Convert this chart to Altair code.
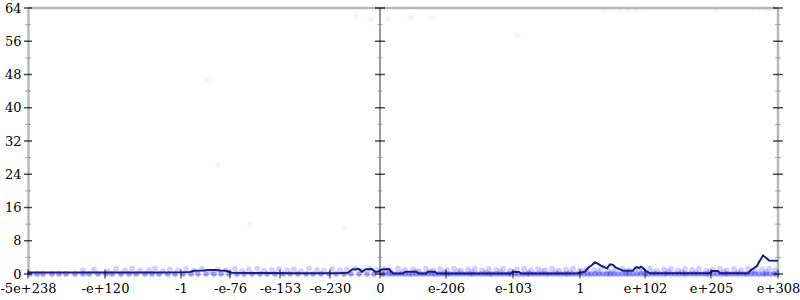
import altair as alt
import pandas as pd

# x is an ordinal "float position" index running 0..750 across the plot
tick_pos = [0, 77, 153, 202, 252, 302, 352, 418, 485, 552, 617, 683, 750]
tick_labels = ["-5e+238", "-e+120", "-1", "-e-76", "-e-153", "-e-230", "0",
               "e-206", "e-103", "1", "e+102", "e+205", "e+308"]
y_major = [0, 8, 16, 24, 32, 40, 48, 56, 64]
y_minor = [4, 12, 20, 28, 36, 44, 52, 60]

# average error line (bits)
line_x = [0, 72, 122, 157, 162, 166, 176, 180, 188, 192, 198, 204, 232, 272, 312,
          320, 324, 331, 334, 338, 344, 347, 350, 354, 361, 365, 375, 378, 388, 391,
          398, 400, 407, 409, 442, 483, 485, 491, 493, 532, 550, 557, 560, 564, 567,
          570, 573, 576, 579, 582, 585, 588, 592, 595, 605, 607, 609, 611, 613, 615,
          617, 619, 622, 682, 684, 690, 692, 720, 723, 726, 729, 731, 733, 735, 737,
          739, 741, 750]
line_y = [0.36, 0.36, 0.38, 0.40, 0.50, 0.79, 0.85, 0.96, 0.96, 0.85, 0.79, 0.30, 0.22, 0.20, 0.22,
          0.30, 1.10, 1.20, 0.55, 1.15, 1.20, 0.55, 0.55, 1.10, 1.20, 0.10, 0.15, 0.55, 0.55, 0.15,
          0.15, 0.55, 0.55, 0.12, 0.12, 0.12, 0.50, 0.50, 0.12, 0.12, 0.20, 0.55, 1.44, 2.17, 2.82,
          2.41, 2.00, 1.68, 1.37, 2.33, 2.17, 1.52, 1.13, 0.79, 0.79, 1.44, 1.68, 1.44, 1.76, 1.44,
          0.96, 0.55, 0.17, 0.17, 0.72, 0.72, 0.17, 0.17, 0.96, 1.44, 1.92, 2.89, 3.61, 4.45, 4.09,
          3.73, 3.25, 3.20]

# sample points at zero error
zero_x = [2, 9, 15, 24, 31, 38, 47, 55, 61, 70, 78, 84, 93, 101, 108, 117, 124, 131, 140, 147,
          155, 163, 170, 178, 186, 193, 201, 209, 216, 224, 232, 239, 247, 255, 262, 270, 278,
          285, 293, 301, 308, 316, 323, 331, 339, 346, 354, 361, 369, 377, 384, 392, 400, 407,
          415, 422, 430, 438, 445, 453, 461, 468, 476, 483, 491, 499, 506, 514, 521, 529, 537,
          544, 552, 560, 567, 575, 582, 590, 598, 605, 613, 620, 628, 636, 643, 651, 658, 666,
          674, 681, 689, 697, 704, 712, 719, 727, 735, 742, 749,
          356, 365, 373, 381, 388, 396, 404, 411, 419, 426, 434, 442, 449, 457, 464, 472, 480,
          487, 495, 502, 510, 518, 525, 533, 540, 548, 556, 563, 571, 579, 586, 594, 601, 609,
          617, 624, 632, 639, 647, 655, 662, 670, 678, 685, 693, 700, 708, 716, 723, 731, 738, 746]

# sample points with small error (low band)
band_x = [55, 66, 80, 88, 97, 104, 112, 121, 127, 135, 142, 150, 158, 166, 174, 183, 190, 198,
          207, 214, 221, 229, 236, 244, 251, 259, 266, 273, 281, 289, 296, 304, 312, 319, 327,
          334, 342, 349, 356, 362, 370, 377, 385, 391, 398, 405, 412, 419, 426, 433, 440, 447,
          454, 461, 468, 475, 482, 489, 496, 503, 510, 517, 524, 531, 538, 545, 552, 559, 566,
          573, 580, 587, 594, 601, 608, 615, 622, 629, 636, 643, 650, 657, 664, 671, 678, 685,
          692, 699, 706, 713, 720, 727, 734, 741, 747,
          360, 374, 388, 402, 416, 430, 444, 458, 472, 486, 500, 514, 528, 542, 556, 570, 584,
          598, 612, 626, 640, 654, 668, 682, 696, 710, 724, 738]
band_y = [0.9, 1.1, 0.7, 1.2, 0.9, 1.3, 0.8, 1.0, 1.3, 0.7, 1.1, 0.9, 1.2, 0.8, 1.3, 0.6, 1.0, 0.9,
          1.2, 0.7, 1.1, 1.3, 0.8, 1.0, 1.2, 0.9, 1.1, 0.7, 1.3, 1.0, 0.8, 1.2, 0.9, 1.1, 1.3,
          0.8, 1.2, 1.0, 1.2, 0.8, 1.3, 1.0, 1.1, 0.7, 1.3, 0.9, 1.2, 1.0, 1.3, 0.8, 1.1, 1.3,
          0.9, 1.2, 1.0, 1.3, 0.8, 1.1, 1.3, 0.9, 1.2, 1.0, 1.3, 0.8, 1.1, 1.3, 0.9, 1.2, 1.0,
          1.3, 0.8, 1.1, 1.3, 0.9, 1.2, 1.0, 1.3, 0.8, 1.1, 1.3, 0.9, 1.2, 1.0, 1.3, 0.8, 1.1,
          1.3, 0.9, 1.2, 1.0, 1.3, 0.8, 1.1, 1.3, 0.9,
          0.5, 0.4, 0.6, 0.5, 0.4, 0.6, 0.5, 0.4, 0.6, 0.5, 0.4, 0.6, 0.5, 0.4, 0.6, 0.5, 0.4,
          0.6, 0.5, 0.4, 0.6, 0.5, 0.4, 0.6, 0.5, 0.4, 0.6, 0.5]

# sample points with large error
high_x = [328, 343, 360, 383, 404, 575, 585, 592, 600, 608, 615, 688, 725, 732, 738, 742,
          179, 190, 222, 317, 489]
high_y = [61.8, 61.3, 61.3, 61.6, 61.8, 63.8, 63.9, 63.7, 63.9, 63.8, 63.9, 63.8, 63.8, 63.9,
          63.8, 63.9, 46.7, 26.2, 11.8, 11.0, 57.5]

X_MID = 352
X_MAX = 750
FONT = "DejaVu Serif"

zero_df = pd.DataFrame({"x": zero_x, "y": [0.0] * len(zero_x)})
band_df = pd.DataFrame({"x": band_x, "y": band_y})
high_df = pd.DataFrame({"x": high_x, "y": high_y})
line_df = pd.DataFrame({"x": line_x, "y": line_y})
xt_df = pd.DataFrame({"v": tick_pos})
ymaj_df = pd.DataFrame({"v": y_major})
ymin_df = pd.DataFrame({"v": y_minor})
one_df = pd.DataFrame({"v": [0]})

xscale = alt.Scale(domain=[0, X_MAX], nice=False, zero=False)
yscale = alt.Scale(domain=[0, 64], nice=False)

label_expr = "[" + ",".join("'%s'" % s for s in tick_labels) + "][indexof([" + \
    ",".join(str(v) for v in tick_pos) + "], datum.value)]"

x_axis = alt.Axis(values=tick_pos, labelExpr=label_expr, domain=False, ticks=False,
                  grid=False, title=None, labelFont=FONT, labelFontSize=13,
                  labelColor="black", labelPadding=8, labelOverlap=False,
                  labelFlush=False, labelBound=False, labelAlign="center")
y_axis = alt.Axis(values=y_major, domain=True, domainColor="#b8b8b8", domainWidth=2.5,
                  ticks=False, grid=False, title=None, labelFont=FONT, labelFontSize=13,
                  labelColor="black", labelPadding=7, labelBaseline="middle")


def X(field=None, datum=None):
    if datum is not None:
        return alt.X(datum=datum, type="quantitative", scale=xscale, axis=x_axis)
    return alt.X(field, type="quantitative", scale=xscale, axis=x_axis)


def Y(field=None, datum=None):
    if datum is not None:
        return alt.Y(datum=datum, type="quantitative", scale=yscale, axis=y_axis)
    return alt.Y(field, type="quantitative", scale=yscale, axis=y_axis)


band_pts = alt.Chart(band_df).mark_circle(size=34, color="#3a3aff", opacity=0.24).encode(
    x=X("x"), y=Y("y"))
high_pts = alt.Chart(high_df).mark_circle(size=28, color="#3a3aff", opacity=0.06).encode(
    x=X("x"), y=Y("y"))
zero_pts = alt.Chart(zero_df).mark_circle(size=30, color="#2a2aff", opacity=0.45).encode(
    x=X("x"), y=Y("y"))

top_rule = alt.Chart(one_df).mark_rule(color="#b8b8b8", strokeWidth=2.5).encode(
    y=Y(datum=64))
right_rule = alt.Chart(one_df).mark_rule(color="#b8b8b8", strokeWidth=2.5).encode(
    x=X(datum=X_MAX))
mid_rule = alt.Chart(one_df).mark_rule(color="#555555", strokeWidth=1.2).encode(
    x=X(datum=X_MID))

line = alt.Chart(line_df).mark_line(color="#1c1c80", strokeWidth=2).encode(
    x=X("x"), y=Y("y"))

layers = [band_pts, high_pts, zero_pts, top_rule, right_rule, mid_rule, line]

for xpos, maj, mn in [(0, 8, 6), (X_MID, 10, 5), (X_MAX, 10, 6)]:
    layers.append(alt.Chart(ymin_df).mark_tick(orient="horizontal", size=mn, thickness=1,
                                               color="#888888").encode(
        x=X(datum=xpos), y=Y("v")))
    layers.append(alt.Chart(ymaj_df).mark_tick(orient="horizontal", size=maj, thickness=1.5,
                                               color="black").encode(
        x=X(datum=xpos), y=Y("v")))

layers.append(alt.Chart(xt_df).mark_tick(orient="vertical", size=9, thickness=1.2,
                                         color="black").encode(
    x=X("v"), y=Y(datum=0)))

chart = alt.layer(*layers).properties(
    width=750, height=266,
    autosize=alt.AutoSizeParams(type="none"),
    padding={"left": 28, "top": 8, "right": 22, "bottom": 26},
).configure_view(stroke=None).configure(background="white")

chart.save("out.html", embed_options={"renderer": "svg", "actions": False})
